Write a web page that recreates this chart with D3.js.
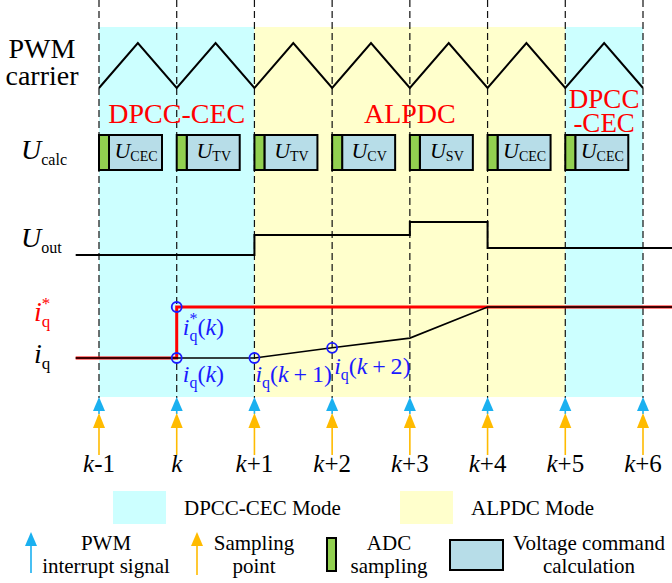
<!DOCTYPE html>
<html>
<head>
<meta charset="utf-8">
<script src="https://d3js.org/d3.v7.min.js"></script>
</head>
<body style="margin:0">
<svg id="timing" width="672" height="583"></svg>
<script>
// sampling instants (k offsets) and their labels
const steps = [-1, 0, 1, 2, 3, 4, 5, 6]
const stepSign = ["-1", "", "+1", "+2", "+3", "+4", "+5", "+6"]

// control mode spans
const modeFrom = [-1, 1, 5]
const modeTo = [1, 5, 6]
const modeName = ["DPCC-CEC", "ALPDC", "DPCC-CEC"]

// voltage command calculation blocks
const calcStep = [-1, 0, 1, 2, 3, 4, 5]
const calcSub = ["CEC", "TV", "TV", "CV", "SV", "CEC", "CEC"]

// PWM carrier (0 = valley, 1 = peak)
const carrierT = [-1, -0.5, 0, 0.5, 1, 1.5, 2, 2.5, 3, 3.5, 4, 4.5, 5, 5.5, 6]
const carrierV = [0, 1, 0, 1, 0, 1, 0, 1, 0, 1, 0, 1, 0, 1, 0]

// output voltage
const uOutT = [-1.3, 1, 1, 3, 3, 4, 4, 6.4]
const uOutV = [0, 0, 1, 1, 1.65, 1.65, 0.35, 0.35]

// current reference and actual current
const iqRefT = [-1.3, 0, 0, 6.4]
const iqRefV = [0, 0, 1, 1]
const iqT = [-1.3, 0, 1, 2, 3, 4, 6.4]
const iqV = [0, 0, 0, 0.2, 0.39, 1, 1]

// marked samples
const markT = [0, 0, 1, 2]
const markV = [1, 0, 0, 0.2]

const serif = "'Liberation Serif'"
const svg = d3.select("#timing")
const x = d3.scaleLinear().domain([-1, 6]).range([99, 643])
const yCar = d3.scaleLinear().domain([0, 1]).range([88, 43])
const yOut = d3.scaleLinear().domain([0, 1]).range([255, 235])
const yI = d3.scaleLinear().domain([0, 1]).range([358, 307])

const cyan = "#ccffff", yellow = "#ffffcc"
const modeColor = m => m == "ALPDC" ? yellow : cyan

// text helper: every label goes through here so it gets the serif face
function label(xp, yp, size, str) {
  return svg.append("text").attr("x", xp).attr("y", yp)
    .attr("font-size", size).style("font-family", serif).text(str || null)
}

// background mode shading
svg.selectAll(".mode")
  .data(modeName)
  .join("rect")
  .attr("x", (d, i) => x(modeFrom[i]))
  .attr("width", (d, i) => x(modeTo[i]) - x(modeFrom[i]))
  .attr("y", 27)
  .attr("height", 370)
  .attr("fill", d => modeColor(d))

// dashed grid lines
svg.selectAll(".grid")
  .data(steps)
  .join("line")
  .attr("x1", d => x(d)).attr("x2", d => x(d))
  .attr("y1", 0).attr("y2", 398)
  .attr("stroke", "#111")
  .attr("stroke-width", 1.2)
  .attr("stroke-dasharray", "7,4")

// PWM carrier
const carrier = carrierT.map((t, i) => [t, carrierV[i]])
svg.append("path")
  .attr("d", d3.line().x(d => x(d[0])).y(d => yCar(d[1]))(carrier))
  .attr("fill", "none").attr("stroke", "#000").attr("stroke-width", 2)

// row labels
label(42, 58, 28, "PWM").attr("text-anchor", "middle")
label(42, 85, 28, "carrier").attr("text-anchor", "middle")

function subLabel(xp, yp, main, sub, size, subSize, color, sup) {
  const t = label(xp, yp, size).attr("fill", color)
  t.append("tspan").attr("font-style", "italic").text(main)
  if (sup) {
    t.append("tspan").attr("font-size", subSize).attr("dy", -size * 0.42).text("*")
    t.append("tspan").attr("font-size", subSize).attr("dx", -subSize * 0.5).attr("dy", size * 0.62).text(sub)
  } else {
    t.append("tspan").attr("font-size", subSize).attr("dy", size * 0.2).text(sub)
  }
  return t
}
subLabel(21, 159, "U", "calc", 28, 16, "#000")
subLabel(21, 247, "U", "out", 28, 16, "#000")
subLabel(34, 321, "i", "q", 28, 17, "#ff0000", true)
subLabel(34, 363, "i", "q", 28, 17, "#000")

// mode names
label(x(0), 123, 28, modeName[0]).attr("text-anchor", "middle").attr("fill", "#ff0000")
label(x(3), 123, 28, modeName[1]).attr("text-anchor", "middle").attr("fill", "#ff0000")
label(x(5.5), 108, 27, "DPCC").attr("text-anchor", "middle").attr("fill", "#ff0000")
label(x(5.5), 132, 27, "-CEC").attr("text-anchor", "middle").attr("fill", "#ff0000")

// calculation blocks
const blocks = svg.selectAll(".blk").data(calcSub).join("g")
  .attr("transform", (d, i) => "translate(" + x(calcStep[i]) + ",135)")
blocks.append("rect").attr("x", 10).attr("width", 53).attr("height", 35)
  .attr("fill", "#b7dde8").attr("stroke", "#000").attr("stroke-width", 2)
blocks.append("rect").attr("width", 10).attr("height", 35)
  .attr("fill", "#92d050").attr("stroke", "#000").attr("stroke-width", 2)
const bt = blocks.append("text").attr("x", 37).attr("y", 23).attr("text-anchor", "middle")
  .attr("font-size", 22).style("font-family", serif)
bt.append("tspan").attr("font-style", "italic").text("U")
bt.append("tspan").attr("font-size", 14).attr("dy", 3).text(d => d)

// output voltage
const uOut = uOutT.map((t, i) => [t, uOutV[i]])
svg.append("path")
  .attr("d", d3.line().x(d => x(d[0])).y(d => yOut(d[1]))(uOut))
  .attr("fill", "none").attr("stroke", "#000").attr("stroke-width", 2)

// current reference and current
const iqRef = iqRefT.map((t, i) => [t, iqRefV[i]])
const iq = iqT.map((t, i) => [t, iqV[i]])
svg.append("path")
  .attr("d", d3.line().x(d => x(d[0])).y(d => yI(d[1]))(iqRef))
  .attr("fill", "none").attr("stroke", "#ff0000").attr("stroke-width", 3)
svg.append("path")
  .attr("d", d3.line().x(d => x(d[0])).y(d => yI(d[1]))(iq))
  .attr("fill", "none").attr("stroke", "#000").attr("stroke-width", 1.6)

svg.selectAll(".mark").data(markT).join("circle")
  .attr("cx", d => x(d)).attr("cy", (d, i) => yI(markV[i]))
  .attr("r", 5).attr("fill", "none").attr("stroke", "#1a1aff").attr("stroke-width", 1.8)

// sample annotations
const blue = "#1a1aff"
function sampleLabel(xp, yp, arg, sup) {
  const t = label(xp, yp, 24).attr("fill", blue)
  t.append("tspan").attr("font-style", "italic").text("i")
  if (sup) {
    t.append("tspan").attr("font-size", 16).attr("dy", -11).text("*")
    t.append("tspan").attr("font-size", 16).attr("dx", -8).attr("dy", 17).text("q")
  } else {
    t.append("tspan").attr("font-size", 16).attr("dy", 6).text("q")
  }
  t.append("tspan").attr("dy", -6).text("(")
  t.append("tspan").attr("font-style", "italic").text("k")
  if (arg) t.append("tspan").text("\u2009+\u2009" + arg)
  t.append("tspan").text(")")
}
sampleLabel(x(0) + 6, 335, "", true)
sampleLabel(x(0) + 6, 382, "", false)
sampleLabel(x(1) + 1, 382, "1", false)
sampleLabel(x(2) + 2, 374, "2", false)

// arrows
function arrow(xp, tip, base, end, color) {
  svg.append("line").attr("x1", xp).attr("x2", xp).attr("y1", base - 1).attr("y2", end)
    .attr("stroke", color).attr("stroke-width", 1.6)
  svg.append("path")
    .attr("d", "M" + xp + "," + tip + "L" + (xp + 6) + "," + base + "L" + (xp - 6) + "," + base + "Z")
    .attr("fill", color)
}
const arrowBlue = "#1ab0f0", arrowOrange = "#ffbb00"
steps.forEach(s => {
  arrow(x(s), 397, 411, 414, arrowBlue)
  arrow(x(s), 413, 428, 455, arrowOrange)
})

// step labels
const tl = svg.selectAll(".tick").data(steps).join("text")
  .attr("x", d => x(d)).attr("y", 472).attr("text-anchor", "middle")
  .attr("font-size", 25).style("font-family", serif)
tl.append("tspan").attr("font-style", "italic").text("k")
tl.append("tspan").text((d, i) => stepSign[i])

// legend: modes
svg.append("rect").attr("x", 113).attr("y", 491).attr("width", 53).attr("height", 33).attr("fill", cyan)
label(184, 515, 21, "DPCC-CEC Mode")
svg.append("rect").attr("x", 400).attr("y", 491).attr("width", 53).attr("height", 33).attr("fill", yellow)
label(471, 515, 21, "ALPDC Mode")

// legend: symbols
arrow(31, 532, 546, 573, arrowBlue)
arrow(197, 532, 546, 575, arrowOrange)
svg.append("rect").attr("x", 327).attr("y", 538).attr("width", 9).attr("height", 33)
  .attr("fill", "#92d050").attr("stroke", "#000").attr("stroke-width", 2)
svg.append("rect").attr("x", 450).attr("y", 540).attr("width", 53).attr("height", 30)
  .attr("fill", "#b7dde8").attr("stroke", "#000").attr("stroke-width", 2)

const legendX = [106, 254, 389, 589]
const legendTop = ["PWM", "Sampling", "ADC", "Voltage command"]
const legendBottom = ["interrupt signal", "point", "sampling", "calculation"]
legendX.forEach((lx, i) => {
  label(lx, 550, 21, legendTop[i]).attr("text-anchor", "middle")
  label(lx, 573, 21, legendBottom[i]).attr("text-anchor", "middle")
})
</script>
</body>
</html>
